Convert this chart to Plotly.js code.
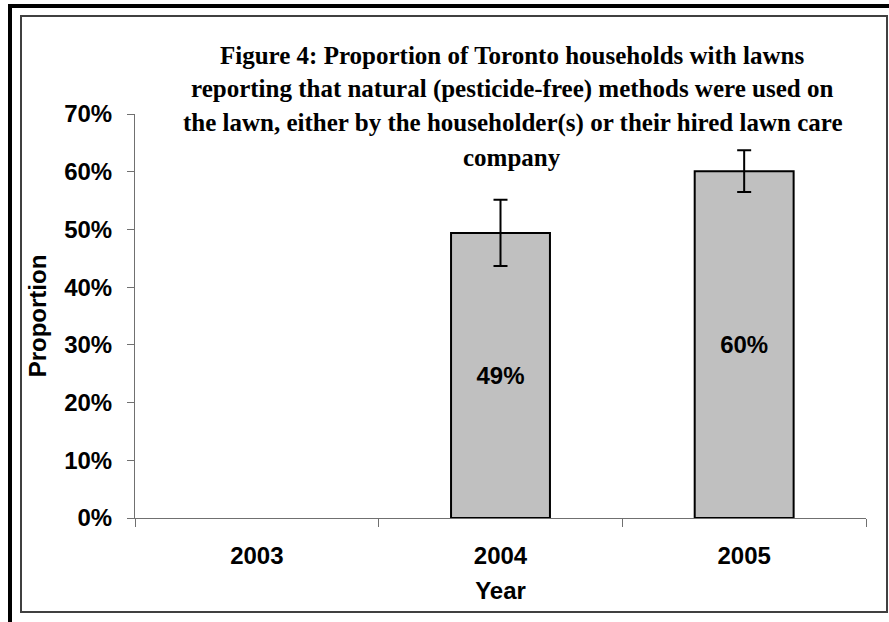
<!DOCTYPE html>
<html>
<head>
<meta charset="utf-8">
<script src="https://cdn.plot.ly/plotly-3.0.1.min.js"></script>
<style>
html,body{margin:0;padding:0;background:#fff;}
#chart{width:889px;height:622px;}
</style>
</head>
<body>
<div id="chart"></div>
<script>
// ---- data ----
const years = ['2003', '2004', '2005'];
const proportion = [null, 0.494, 0.601];
const errorHalf = [null, 0.0575, 0.036];
const yTicks = [0, 0.1, 0.2, 0.3, 0.4, 0.5, 0.6, 0.7];
const titleLines = [
  'Figure 4: Proportion of Toronto households with lawns',
  'reporting that natural (pesticide-free) methods were used on',
  'the lawn, either by the householder(s) or their hired lawn care',
  'company'
];
const xTitle = 'Year';
const yTitle = 'Proportion';

// ---- geometry helpers (plot area in px) ----
const W = 889, H = 622;
const L = 135, R = 866, T = 114, B = 518;
const px2x = p => (p - L) / (R - L);
const py2y = p => (B - p) / (B - T);

const sans = 'Liberation Sans, Arial, sans-serif';
const serif = 'Liberation Serif, Times New Roman, serif';

const trace = {
  type: 'bar',
  x: years,
  y: proportion,
  marker: {color: '#c0c0c0', line: {color: '#000', width: 2}},
  error_y: {type: 'data', array: errorHalf, visible: true, color: '#000', thickness: 2, width: 7},
  texttemplate: '%{y:.0%}',
  textposition: 'inside',
  insidetextanchor: 'middle',
  textangle: 0,
  constraintext: 'none',
  textfont: {family: sans, size: 24, color: '#000', weight: 'bold'},
  hoverinfo: 'skip'
};

const titleY = [55, 89, 123, 157];
const annotations = titleLines.map((t, i) => ({
  text: t, xref: 'paper', yref: 'paper',
  x: px2x(512), y: py2y(titleY[i]),
  xanchor: 'center', yanchor: 'middle', showarrow: false,
  font: {family: serif, size: 25, color: '#000', weight: 'bold'}
}));

const shapes = [
  // inner thin frame
  {type: 'rect', xref: 'paper', yref: 'paper',
   x0: px2x(21), x1: px2x(887), y0: py2y(612), y1: py2y(16),
   line: {color: '#404040', width: 2}, fillcolor: 'rgba(0,0,0,0)', layer: 'below'},
  // outer thick frame (left and top)
  {type: 'path', xref: 'paper', yref: 'paper',
   path: 'M ' + px2x(10) + ' ' + py2y(630) + ' L ' + px2x(10) + ' ' + py2y(6) + ' L ' + px2x(895) + ' ' + py2y(6),
   line: {color: '#000', width: 4}, layer: 'below'}
];

const layout = {
  width: W, height: H,
  margin: {l: L, r: W - R, t: T, b: H - B, pad: 0},
  paper_bgcolor: '#fff', plot_bgcolor: '#fff',
  showlegend: false,
  bargap: 0.594,
  xaxis: {
    type: 'category',
    showgrid: false, zeroline: false,
    showline: true, linecolor: '#707070', linewidth: 1,
    ticks: 'outside', tickson: 'boundaries', ticklen: 8, tickcolor: '#707070', tickwidth: 1,
    tickfont: {family: sans, size: 24, color: '#000', weight: 'bold'},
    ticklabelstandoff: 16,
    title: {text: xTitle, font: {family: sans, size: 24, color: '#000', weight: 'bold'}, standoff: 14}
  },
  yaxis: {
    range: [0, 0.7],
    tickvals: yTicks,
    tickformat: '.0%',
    showgrid: false, zeroline: false,
    showline: true, linecolor: '#707070', linewidth: 1,
    ticks: 'outside', ticklen: 7, tickcolor: '#707070', tickwidth: 1,
    tickfont: {family: sans, size: 24, color: '#000', weight: 'bold'},
    ticklabelstandoff: 10,
    title: {text: yTitle, font: {family: sans, size: 24, color: '#000', weight: 'bold'}, standoff: 10}
  },
  annotations: annotations,
  shapes: shapes
};

Plotly.newPlot('chart', [trace], layout, {staticPlot: true, displayModeBar: false});
</script>
</body>
</html>
